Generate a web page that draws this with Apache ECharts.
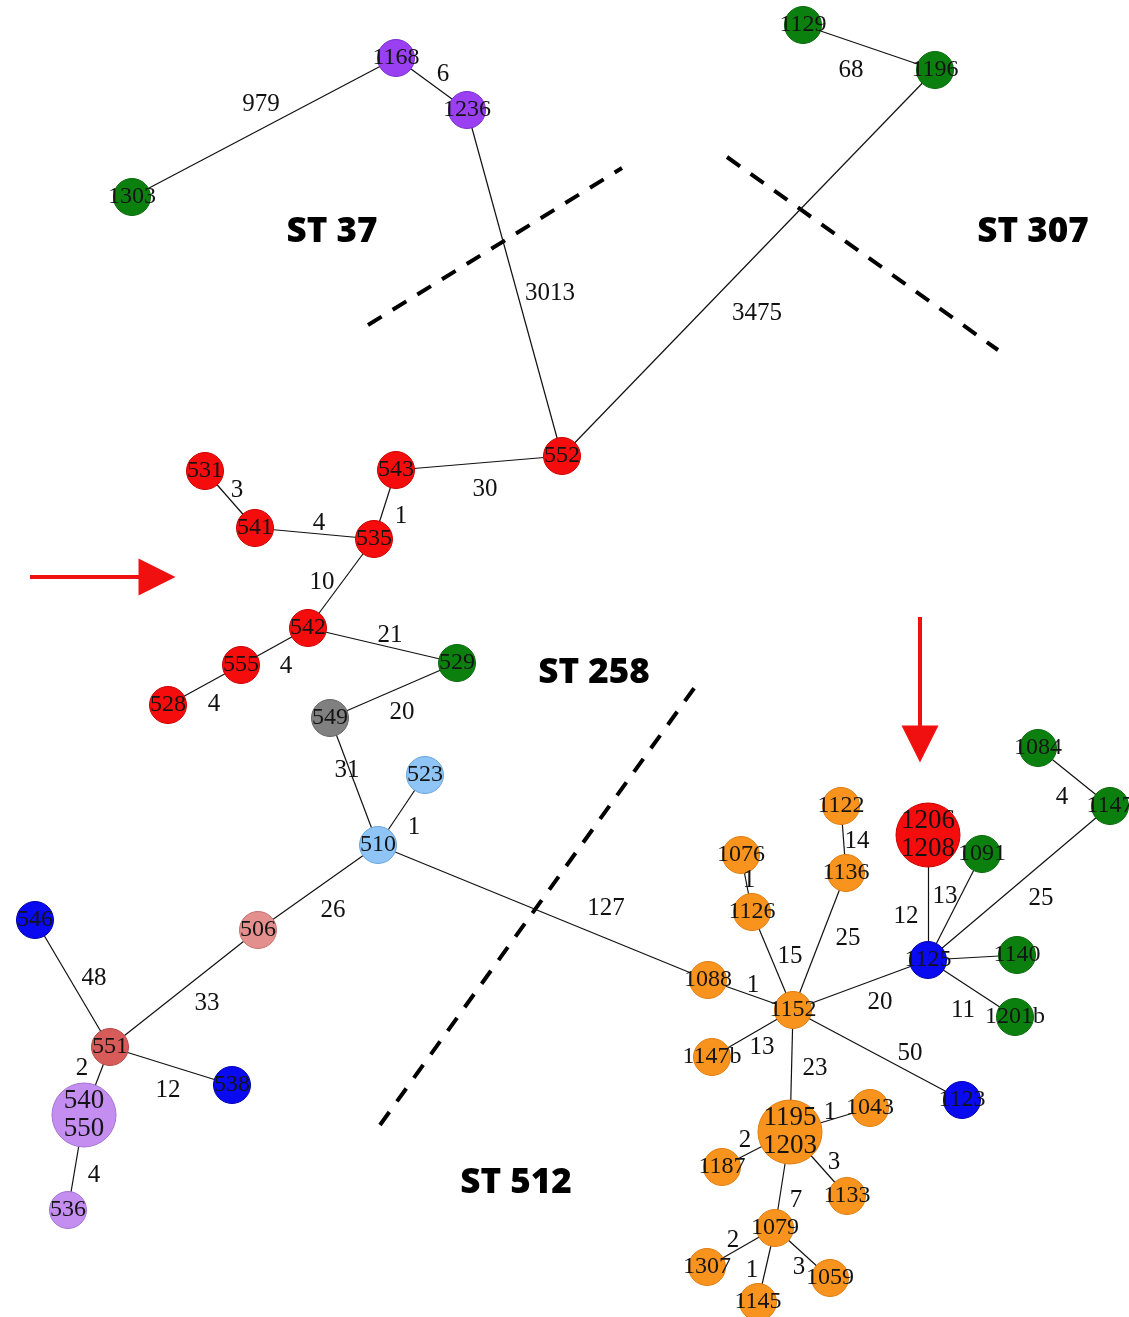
<!DOCTYPE html>
<html>
<head>
<meta charset="utf-8">
<title>MST</title>
<style>
  html, body { margin: 0; padding: 0; background: #fff; }
  #chart { width: 1129px; height: 1317px; }
</style>
<script src="https://cdn.jsdelivr.net/npm/echarts@6/dist/echarts.min.js"></script>
</head>
<body>
<div id="chart"></div>
<script>
// Nodes (isolates), layout coordinates
var nodeNames = ['1303', '1168', '1236', '1129', '1196', '552', '543', '531', '541', '535',
  '542', '529', '555', '528', '549', '523', '510', '506', '546', '551', '538', '540\n550', '536',
  '1088', '1152', '1076', '1126', '1122', '1136', '1206\n1208', '1091', '1084', '1147', '1125',
  '1140', '1201b', '1147b', '1123', '1195\n1203', '1043', '1187', '1133', '1079', '1307', '1145', '1059'];
var nodeX = [132, 396, 467, 803, 935, 562, 396, 205, 255, 374,
  308, 457, 241, 168, 330, 425, 378, 258, 35, 110, 232, 84, 68,
  708, 793, 741, 752, 841, 846, 928, 982, 1038, 1110, 928,
  1017, 1015, 712, 962, 790, 870, 722, 847, 775, 707, 758, 830];
var nodeY = [197, 58, 110, 25, 70, 456, 470, 471, 528, 539,
  628, 663, 665, 705, 718, 775, 845, 930, 920, 1047, 1085, 1115, 1210,
  980, 1010, 855, 912, 806, 873, 835, 854, 748, 806, 960,
  955, 1017, 1057, 1100, 1132, 1108, 1167, 1196, 1228, 1267, 1302, 1278];
var nodeGroup = ['g', 'p', 'p', 'g', 'g', 'r', 'r', 'r', 'r', 'r',
  'r', 'g', 'r', 'r', 'k', 'lb', 'lb', 'sa', 'b', 'ir', 'b', 'la', 'la',
  'o', 'o', 'o', 'o', 'o', 'o', 'r', 'g', 'g', 'g', 'b',
  'g', 'g', 'o', 'b', 'o', 'o', 'o', 'o', 'o', 'o', 'o', 'o'];

// Edges and allele differences
var edgeFrom = ['1303', '1168', '1236', '1129', '1196', '552', '543', '531', '541', '535',
  '542', '542', '555', '529', '549', '510', '510', '510', '506', '551', '551', '551', '540\n550',
  '1088', '1152', '1126', '1152', '1136', '1152', '1125', '1125', '1125', '1147', '1125', '1125',
  '1152', '1152', '1152', '1195\n1203', '1195\n1203', '1195\n1203', '1195\n1203', '1079', '1079', '1079'];
var edgeTo = ['1168', '1236', '552', '1196', '552', '543', '535', '541', '535', '542',
  '529', '555', '528', '549', '510', '523', '506', '1088', '551', '546', '538', '540\n550', '536',
  '1152', '1126', '1076', '1136', '1122', '1125', '1206\n1208', '1091', '1147', '1084', '1140', '1201b',
  '1147b', '1195\n1203', '1123', '1043', '1187', '1133', '1079', '1307', '1145', '1059'];
var edgeWeight = ['979', '6', '3013', '68', '3475', '30', '1', '3', '4', '10',
  '21', '4', '4', '20', '31', '1', '26', '127', '33', '48', '12', '2', '4',
  '1', '15', '1', '25', '14', '20', '12', '13', '25', '4', '', '11',
  '13', '23', '50', '1', '2', '3', '7', '2', '1', '3'];

// Where each weight is written (layout, not data)
var weightAt = [[261, 104], [443, 74], [550, 293], [851, 70], [757, 313], [485, 489], [401, 516], [237, 490], [319, 523], [322, 582],
  [390, 635], [286, 666], [214, 704], [402, 712], [347, 770], [414, 827], [333, 910], [606, 908], [207, 1003], [94, 978], [168, 1090], [82, 1068], [94, 1175],
  [753, 985], [790, 956], [749, 880], [848, 938], [857, 841], [880, 1002], [906, 916], [945, 896], [1041, 898], [1062, 797], [0, 0], [963, 1010],
  [762, 1047], [815, 1068], [910, 1053], [830, 1112], [745, 1140], [834, 1162], [796, 1200], [733, 1240], [752, 1270], [799, 1267]];

// Sequence type labels and separators
var stNames = ['ST 37', 'ST 307', 'ST 258', 'ST 512'];
var stAt = [[332, 232], [1033, 232], [594, 673], [516, 1183]];
var dashLines = [
  [[368, 325], [622, 168]],
  [[727, 157], [998, 350]],
  [[380, 1125], [700, 680]]
];
var arrows = [
  [[30, 577], [157, 577]],
  [[920, 617], [920, 744]]
];

(function() {
  var colors = {
    r: '#f50d0d', g: '#0c800f', p: '#9a3ff2', b: '#0a0af0', lb: '#8ec4f6',
    k: '#808080', sa: '#e38f8d', ir: '#d75c59', la: '#c48ef1', o: '#f8941d'
  };
  var borders = {
    r: '#c00', g: '#0a6a0c', p: '#7a2fd0', b: '#0000b0', lb: '#6aa6dc',
    k: '#666', sa: '#c77170', ir: '#b34a48', la: '#a673d3', o: '#e07d10'
  };

  var nodes = nodeNames.map(function(name, i) {
    var big = name.indexOf('\n') > -1;
    return {
      name: name,
      value: [nodeX[i], nodeY[i]],
      symbolSize: big ? 64 : 37,
      itemStyle: { color: colors[nodeGroup[i]], borderColor: borders[nodeGroup[i]], borderWidth: 1 },
      label: big ? { fontSize: 27, lineHeight: 28 } : {}
    };
  });

  var links = edgeFrom.map(function(from, i) {
    return { source: from, target: edgeTo[i] };
  });

  var weights = [];
  edgeWeight.forEach(function(w, i) {
    if (w) weights.push([weightAt[i][0], weightAt[i][1], w]);
  });

  var chart = echarts.init(document.getElementById('chart'));
  var series = [];

  // 虚线分隔
  dashLines.forEach(function(seg) {
    series.push({
      type: 'line',
      data: seg,
      symbol: 'none',
      silent: true,
      z: 1,
      lineStyle: { color: '#000', width: 4, type: [16, 13] }
    });
  });

  series.push({
    type: 'graph',
    coordinateSystem: 'cartesian2d',
    layout: 'none',
    z: 3,
    data: nodes,
    links: links,
    symbol: 'circle',
    lineStyle: { color: '#111', width: 1.2, opacity: 1 },
    label: {
      show: true,
      position: 'inside',
      color: '#141414',
      fontFamily: 'Liberation Serif',
      fontSize: 24,
      lineHeight: 26
    },
    emphasis: { disabled: true }
  });

  // 边上的数字
  series.push({
    type: 'scatter',
    data: weights,
    symbolSize: 0,
    z: 4,
    silent: true,
    itemStyle: { opacity: 1 },
    label: {
      show: true,
      position: 'inside',
      formatter: function(p) { return p.value[2]; },
      color: '#111',
      opacity: 1,
      fontFamily: 'Liberation Serif',
      fontSize: 25
    }
  });

  series.push({
    type: 'scatter',
    data: stAt.map(function(p, i) { return [p[0], p[1], stNames[i]]; }),
    symbolSize: 0,
    silent: true,
    itemStyle: { opacity: 1 },
    label: {
      show: true,
      position: 'inside',
      formatter: function(p) { return p.value[2]; },
      color: '#000',
      opacity: 1,
      fontFamily: 'Open Sans',
      fontWeight: 800,
      fontSize: 35
    }
  });

  // 红色箭头
  series.push({
    type: 'lines',
    coordinateSystem: 'cartesian2d',
    data: arrows.map(function(a) { return { coords: a }; }),
    symbol: ['none', 'triangle'],
    symbolSize: [26, 37],
    silent: true,
    lineStyle: { color: '#f01010', width: 4, opacity: 1 },
    itemStyle: { color: '#f01010' }
  });

  chart.setOption({
    animation: false,
    backgroundColor: '#fff',
    grid: { left: 0, right: 0, top: 0, bottom: 0 },
    xAxis: { type: 'value', min: 0, max: 1129, show: false },
    yAxis: { type: 'value', min: 0, max: 1317, inverse: true, show: false },
    series: series
  });
})();
</script>
</body>
</html>
